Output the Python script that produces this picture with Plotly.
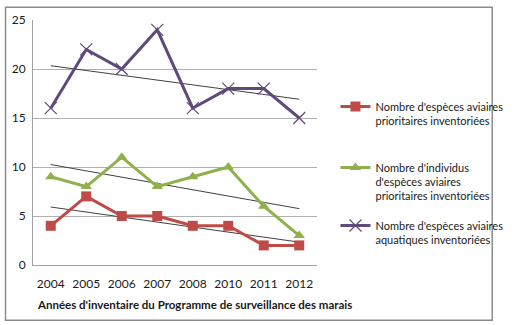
import numpy as np
import plotly.graph_objects as go

years = ["2004", "2005", "2006", "2007", "2008", "2010", "2011", "2012"]
especes_prioritaires = [4, 7, 5, 5, 4, 4, 2, 2]
individus_prioritaires = [9, 8, 11, 8, 9, 10, 6, 3]
especes_aquatiques = [16, 22, 20, 24, 16, 18, 18, 15]
y_ticks = [0, 5, 10, 15, 20, 25]

names = [
    "Nombre d'espèces aviaires<br>prioritaires inventoriées",
    "Nombre d'individus<br>d'espèces aviaires<br>prioritaires inventoriées",
    "Nombre d'espèces aviaires<br>aquatiques inventoriées",
]
colors = ["#BE4B48", "#8FB04C", "#604A7B"]
symbols = ["square", "triangle-up", "x-thin"]
series = [especes_prioritaires, individus_prioritaires, especes_aquatiques]
legend_ids = ["legend", "legend2", "legend3"]
legend_tops = [0.703, 0.454, 0.217]

fig = go.Figure()
idx = np.arange(len(years))
for s in series:
    a, b = np.polyfit(idx, s, 1)
    fig.add_trace(go.Scatter(x=years, y=a * idx + b, mode="lines",
                             line=dict(color="#404040", width=1),
                             showlegend=False, hoverinfo="skip"))

for i, (s, n, c, sym) in enumerate(zip(series, names, colors, symbols)):
    marker = dict(symbol=sym, size=10, color=c)
    if sym == "x-thin":
        marker = dict(symbol=sym, size=12, color=c, line=dict(color=c, width=1.2))
    fig.add_trace(go.Scatter(x=years, y=s, mode="lines+markers", name=n,
                             legend=legend_ids[i],
                             line=dict(color=c, width=3), marker=marker))

fig.add_shape(type="rect", xref="paper", yref="paper",
              x0=-0.0967, x1=1.617, y0=-0.225, y1=1.052,
              line=dict(color="#8C8C8C", width=1.5), fillcolor="rgba(0,0,0,0)")

fig.add_annotation(text="<b>Années d'inventaire du Programme de surveillance des marais</b>",
                   xref="paper", yref="paper", x=0.567, y=-0.16,
                   xanchor="center", yanchor="middle", showarrow=False,
                   font=dict(size=11.5, color="#1a1a1a"))

legend_style = dict(x=1.065, xanchor="left", yanchor="top", valign="top",
                    font=dict(size=11, color="#1a1a1a"), itemwidth=30,
                    bgcolor="rgba(0,0,0,0)")

fig.update_layout(
    width=520, height=325,
    margin=dict(l=32, r=188, t=16, b=60),
    paper_bgcolor="white", plot_bgcolor="white",
    font=dict(family="Lato", size=12, color="#1a1a1a"),
    legend=dict(y=legend_tops[0], **legend_style),
    legend2=dict(y=legend_tops[1], **legend_style),
    legend3=dict(y=legend_tops[2], **legend_style),
    xaxis=dict(type="category", range=[-0.5, 7.5], showgrid=False,
               showline=True, linecolor="#A0A0A0", linewidth=1, ticks="",
               ticklabelstandoff=8),
    yaxis=dict(range=[0, 25], tickvals=y_ticks, showgrid=True,
               gridcolor="#B0B0B0", gridwidth=1, showline=True,
               linecolor="#A0A0A0", zeroline=False, ticks="",
               ticklabelstandoff=4),
)

fig.write_html("out.html")
